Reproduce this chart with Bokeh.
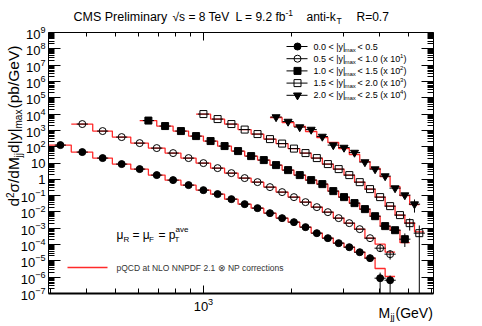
import numpy as np
from bokeh.plotting import figure
from bokeh.models import Range1d, FixedTicker, LogAxis, Label
from bokeh.embed import file_html
from bokeh.resources import INLINE

# ---------------- data ----------------
# fine dijet-mass bin edges (GeV); each rapidity bin merges pairs of them
mass_edges = [296, 325, 354, 386, 419, 453, 489, 526, 565, 606, 649, 693, 740, 788, 838, 890,
              944, 1000, 1058, 1118, 1181, 1246, 1313, 1383, 1455, 1530, 1607, 1687, 1770, 1856,
              1945, 2037, 2132, 2231, 2332, 2438, 2546, 2659, 2775, 2895, 3019, 3147, 3279, 3416,
              3558, 3704, 3854, 4010, 4171, 4337, 4509, 4686, 4869, 5058, 5253, 5455, 5663, 5877, 6099]

y_lo = [0.0, 0.5, 1.0, 1.5, 2.0]
y_hi = [0.5, 1.0, 1.5, 2.0, 2.5]
scale_exp = [0, 1, 2, 3, 4]
first_center = [1, 3, 10, 17, 28]   # index in mass_edges of first bin centre

# measured cross sections d2sigma/dMjj d|y|max (pb/GeV)
data_y0 = [125, 46.7, 20.0, 8.57, 4.23, 1.81, 0.893, 0.441, 0.217, 0.124, 0.0610, 0.0301, 0.0171,
           0.00843, 0.00417, 0.00237, 0.00117, 5.0e-4, 2.47e-4, 1.22e-4, 6.9e-5, 3.4e-5, 1.47e-5,
           8.7e-7, 6.5e-7]
data_y1 = [244, 90.6, 38.8, 16.6, 8.20, 4.05, 2.00, 0.986, 0.486, 0.240, 0.119, 0.0673, 0.0332,
           0.0164, 0.00809, 0.00399, 0.00197, 9.7e-4, 4.17e-4, 2.06e-4, 8.8e-5, 2.47e-5, 6.0e-6,
           2.58e-6]
data_y2 = [39.9, 18.4, 9.06, 4.47, 2.21, 1.09, 0.537, 0.265, 0.151, 0.0743, 0.0366, 0.0181,
           0.00893, 0.00508, 0.00189, 8.1e-4, 3.47e-4, 1.49e-4, 5.5e-5, 1.35e-5, 7.6e-6, 2.14e-6]
data_y3 = [10.0, 4.93, 2.44, 1.12, 0.593, 0.292, 0.155, 0.0764, 0.0405, 0.0200, 0.00857, 0.00423,
           0.00181, 6.7e-4, 2.51e-4, 8.1e-5, 2.27e-5, 6.4e-6, 2.06e-6, 5.0e-7]
data_y4 = [0.655, 0.347, 0.159, 0.112, 0.0417, 0.0125, 0.00881, 0.00435, 0.00114, 4.2e-4,
           1.57e-4, 2.88e-5, 1.07e-5, 3.0e-6]

# NLO pQCD x NP predictions (pb/GeV)
theo_y0 = [125, 46.5, 20.0, 8.6, 4.2, 1.82, 0.89, 0.44, 0.218, 0.123, 0.061, 0.030, 0.0170,
           0.0084, 0.0042, 0.00236, 0.00118, 5.0e-4, 2.5e-4, 1.22e-4, 6.9e-5, 3.4e-5, 1.5e-5,
           3.4e-6, 1.1e-6]
theo_y1 = [244, 90, 38.8, 16.6, 8.2, 4.05, 2.0, 0.99, 0.486, 0.240, 0.119, 0.067, 0.0332,
           0.0164, 0.0081, 0.0040, 0.00197, 9.7e-4, 4.2e-4, 2.06e-4, 8.8e-5, 2.5e-5, 1.06e-5,
           3.4e-6]
theo_y2 = [39.9, 18.4, 9.06, 4.47, 2.21, 1.09, 0.537, 0.265, 0.151, 0.0743, 0.0366, 0.0181,
           0.0089, 0.0051, 0.0019, 8.1e-4, 3.47e-4, 1.49e-4, 5.5e-5, 1.35e-5, 7.6e-6, 1.3e-6]
theo_y3 = [10.0, 4.93, 2.44, 1.12, 0.593, 0.292, 0.155, 0.0764, 0.0405, 0.0200, 0.0086, 0.0042,
           0.0018, 6.7e-4, 2.5e-4, 8.1e-5, 2.3e-5, 6.4e-6, 2.1e-6, 6.0e-7]
theo_y4 = [0.615, 0.303, 0.173, 0.0851, 0.0365, 0.0180, 0.00773, 0.00331, 0.00123, 4.59e-4,
           1.48e-4, 3.61e-5, 1.01e-5, 2.84e-6]

# selected statistical error bars: (point index, lower, upper); lower 0 = down to zero
errs_0 = [(23, 0.0, 1.9e-6), (24, 0.0, 1.26e-6)]
errs_1 = [(22, 3.5e-6, 1.06e-5), (23, 1.2e-6, 4.3e-6)]
errs_2 = [(21, 7.1e-7, 4.8e-6)]
errs_3 = [(18, 7.2e-7, 4.0e-6), (19, 0.0, 1.48e-6)]
errs_4 = [(13, 9.1e-7, 5.8e-6)]

data_all = [data_y0, data_y1, data_y2, data_y3, data_y4]
theo_all = [theo_y0, theo_y1, theo_y2, theo_y3, theo_y4]
errs_all = [errs_0, errs_1, errs_2, errs_3, errs_4]
markers = ["circle", "circle", "square", "square", "inverted_triangle"]
fills = ["black", None, "black", None, "black"]
msize = [7, 7, 7, 7, 8]

# ---------------- layout ----------------
W, H = 480, 324
FL, FR, FT, FB = 48, 433, 32, 293      # edges of the drawn frame, canvas pixels
XMIN, XMAX = 296, 6099
YMIN, YMAX = 1e-7, 1e9


def X(px):
    return 10 ** (np.log10(XMIN) + (px - FL) / (FR - FL) * np.log10(XMAX / XMIN))


def Y(py):
    return 10 ** (np.log10(YMAX) - (py - FT) / (FB - FT) * np.log10(YMAX / YMIN))


# the bokeh frame fills the whole canvas; the axes sit at the data limits
p = figure(width=W, height=H, x_axis_type="log", y_axis_type="log",
           x_range=Range1d(X(0), X(W)), y_range=Range1d(Y(H), Y(0)),
           output_backend="svg", toolbar_location=None, min_border=0,
           x_axis_location=None, y_axis_location=None)
p.grid.visible = False
p.outline_line_color = None
p.background_fill_color = "white"
p.border_fill_color = "white"

FONT = "Liberation Sans"
x_major = [1000]
x_minor = [300, 400, 500, 600, 700, 800, 900, 2000, 3000, 4000, 5000, 6000]
y_major = [10.0 ** n for n in range(-7, 10)]
y_minor = [k * 10.0 ** n for n in range(-7, 9) for k in range(2, 10)]


def make_axis(major, minor, loc, bounds, show_labels, major_in, minor_in, lw, standoff):
    ax = LogAxis(ticker=FixedTicker(ticks=major, minor_ticks=minor),
                 fixed_location=loc, bounds=bounds)
    ax.major_tick_in = major_in
    ax.major_tick_out = 0
    ax.minor_tick_in = minor_in
    ax.minor_tick_out = 0
    ax.axis_line_color = "black"
    ax.axis_line_width = lw
    ax.major_tick_line_color = "black"
    ax.minor_tick_line_color = "black"
    ax.major_label_text_font = FONT
    ax.major_label_text_color = "black"
    ax.major_label_text_font_size = "13px"
    ax.major_label_standoff = standoff
    if not show_labels:
        ax.major_label_overrides = {t: "" for t in major}
    return ax


bottom_ax = make_axis(x_major, x_minor, YMIN, (XMIN, XMAX), True, 8, 5, 2, 4)
p.add_layout(bottom_ax, "below")
left_ax = make_axis(y_major, y_minor, XMIN, (YMIN, YMAX), True, 12, 6, 1, 3)
left_ax.major_label_overrides = {10.0: "10", 1.0: "1"}
p.add_layout(left_ax, "left")
top_ax = make_axis(x_major, x_minor, YMAX, (XMIN, XMAX), False, 8, 4, 1, 0)
p.add_layout(top_ax, "above")
right_ax = make_axis(y_major, y_minor, XMAX, (YMIN, YMAX), False, 12, 6, 1, 0)
p.add_layout(right_ax, "right")

RED = "#ff2a2a"

# theory steps
for k in range(5):
    sc = 10.0 ** scale_exp[k]
    n = len(theo_all[k])
    f = first_center[k]
    edges = [mass_edges[f - 1 + 2 * i] for i in range(n + 1)]
    ys = [v * sc for v in theo_all[k]] + [theo_all[k][-1] * sc]
    p.step(x=edges, y=ys, mode="after", line_color=RED, line_width=1.3)

# data points
for k in range(5):
    sc = 10.0 ** scale_exp[k]
    n = len(data_all[k])
    f = first_center[k]
    centers = [mass_edges[f + 2 * i] for i in range(n)]
    ys = [v * sc for v in data_all[k]]
    p.segment(x0=[c / 1.045 for c in centers], x1=[c * 1.045 for c in centers],
              y0=ys, y1=ys, line_color="black", line_width=1)
    ex, e0, e1 = [], [], []
    for (i, lo, hi) in errs_all[k]:
        ex.append(centers[i])
        e0.append(max(lo * sc, YMIN))
        e1.append(hi * sc)
    if ex:
        p.segment(x0=ex, x1=ex, y0=e0, y1=e1, line_color="black", line_width=1)
    p.scatter(centers, ys, marker=markers[k], size=msize[k],
              fill_color=fills[k], line_color="black", line_width=1)


def lab(px, py, text, size, angle=0.0, color="black"):
    p.add_layout(Label(x=X(px), y=Y(py), text=text, text_font=FONT,
                       text_font_size=f"{size}px", text_color=color, angle=angle,
                       text_align="left", text_baseline="middle"))


# legend (data)
for k in range(5):
    ry = 46 + 12.2 * k
    p.segment(x0=[X(286)], x1=[X(307)], y0=[Y(ry)], y1=[Y(ry)], line_color="black", line_width=1)
    p.scatter([X(297)], [Y(ry)], marker=markers[k], size=msize[k],
              fill_color=fills[k], line_color="black")
    lab(313, ry, f"{y_lo[k]:.1f} < |y|", 9)
    lab(344, ry + 3, "max", 6)
    if scale_exp[k] == 0:
        lab(357, ry, f"< {y_hi[k]:.1f}", 9)
    else:
        lab(357, ry, f"< {y_hi[k]:.1f} (x 10", 9)
        lab(399.5, ry - 3, str(scale_exp[k]), 6)
        lab(403, ry, ")", 9)

# legend (theory)
p.segment(x0=[X(67)], x1=[X(107)], y0=[Y(267)], y1=[Y(267)], line_color=RED, line_width=1.3)
lab(116, 267, "pQCD at NLO NNPDF 2.1 \u2297 NP corrections", 8.5, color="#333333")

# scale choice
lab(116, 234, "\u03bc", 12)
lab(123, 239, "R", 8)
lab(132, 234, "= \u03bc", 12)
lab(148.5, 239, "F", 8)
lab(158, 234, "= p", 12)
lab(174, 239, "T", 8)
lab(175, 229, "ave", 8)

# title
lab(73, 16, "CMS Preliminary", 12.5)
lab(172, 16, "\u221as = 8 TeV", 12)
lab(235, 16, "L = 9.2 fb", 12)
lab(285, 12, "-1", 8.5)
lab(306, 16, "anti-k", 12)
lab(336, 20, "T", 8.5)
lab(356, 16, "R=0.7", 12)

# x title
lab(378, 312, "M", 14)
lab(390, 316, "jj", 9.5)
lab(395, 312, "(GeV)", 14)

# y title (rotated)
A = np.pi / 2
lab(13, 206, "d", 15.5, angle=A)
lab(9, 197.5, "2", 10, angle=A)
lab(13, 192, "\u03c3/dM", 15.5, angle=A)
lab(17.5, 157, "jj", 10, angle=A)
lab(13, 152.5, "d|y|", 15.5, angle=A)
lab(17.5, 128, "max", 10, angle=A)
lab(13, 108, " (pb/GeV)", 15.5, angle=A)

open("out.html", "w").write(file_html(p, INLINE))
